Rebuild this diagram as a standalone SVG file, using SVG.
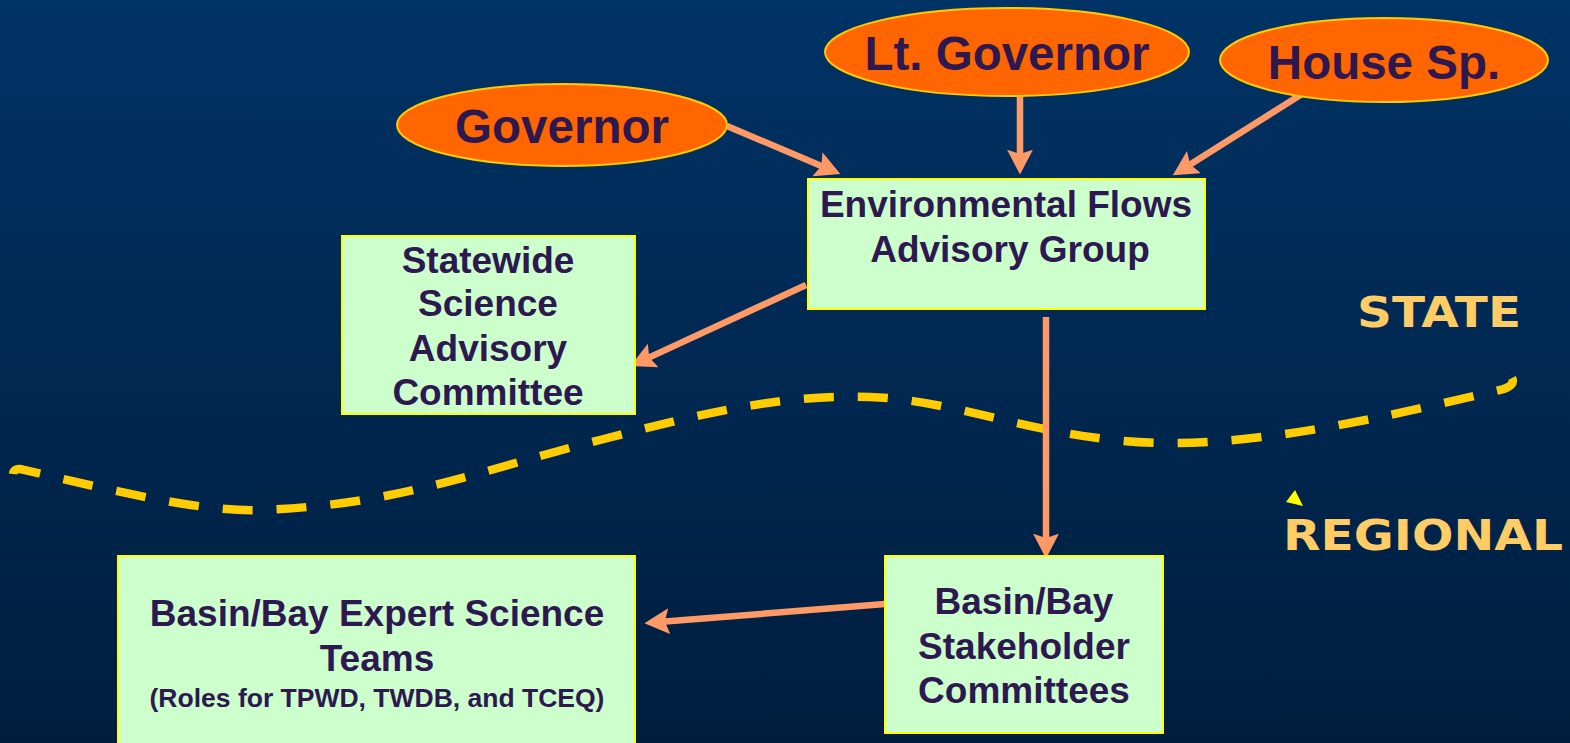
<svg xmlns="http://www.w3.org/2000/svg" width="1570" height="743" viewBox="0 0 1570 743">
<defs>
<linearGradient id="bg" x1="0" y1="0" x2="0" y2="1">
<stop offset="0" stop-color="#003366"/>
<stop offset="1" stop-color="#001d3d"/>
</linearGradient>
<marker id="ah" markerUnits="userSpaceOnUse" markerWidth="26" markerHeight="26" refX="4" refY="12" orient="auto" viewBox="0 0 24 24">
<path d="M0,0 L23,12 L0,24 L4,12 z" fill="#ff9966"/>
</marker>
<style>
.oval{fill:#ff6600;stroke:#ffcc00;stroke-width:2}
.box{fill:#ccffcc;stroke:#ffff00;stroke-width:2}
.t{font-family:"Liberation Sans",Arial,sans-serif;font-weight:bold;fill:#2e1850;text-anchor:middle}
.big{font-size:47.5px}
.mid{font-size:37px}
.sm{font-size:26.5px}
.lbl{font-family:"DejaVu Sans","Liberation Sans",sans-serif;font-weight:bold;fill:#ffcc66;font-size:42px}
.con{stroke:#ff9966;stroke-width:6.5;fill:none;marker-end:url(#ah)}
</style>
</defs>
<rect width="1570" height="743" fill="url(#bg)"/>
<path d="M13,474 Q14,467 24,470 C120,492 200,512 260,510 C400,505 480,470 600,440 C700,414 780,394 870,397 C960,400 1040,440 1160,443 C1280,445 1420,408 1500,390 Q1516,386 1512,378" fill="none" stroke="#ffcc00" stroke-width="8.5" stroke-dasharray="30 24"/>
<polygon points="1295,490 1286,502 1303,506" fill="#ffff00"/>
<text class="lbl" x="1357" y="327" textLength="164" lengthAdjust="spacingAndGlyphs">STATE</text>
<text class="lbl" x="1283" y="550" textLength="280" lengthAdjust="spacingAndGlyphs">REGIONAL</text>
<g id="connectors">
<line class="con" x1="727" y1="126" x2="821.4" y2="166"/>
<line class="con" x1="1020" y1="96" x2="1020" y2="154"/>
<line class="con" x1="1302" y1="94" x2="1190.2" y2="164.4"/>
<line class="con" x1="806" y1="285" x2="649.3" y2="357.4"/>
<line class="con" x1="1046" y1="317" x2="1046" y2="538"/>
<line class="con" x1="885" y1="604" x2="664.9" y2="621.6"/>
</g>
<g id="governor">
<ellipse class="oval" cx="562" cy="125" rx="165" ry="41"/>
<text class="t big" x="562" y="143">Governor</text>
</g>
<g id="lt-governor">
<ellipse class="oval" cx="1007" cy="52" rx="182" ry="44"/>
<text class="t big" x="1007" y="70">Lt. Governor</text>
</g>
<g id="house-sp">
<ellipse class="oval" cx="1384" cy="60" rx="164" ry="42"/>
<text class="t big" x="1384" y="79">House Sp.</text>
</g>
<g id="efag">
<rect class="box" x="808" y="179" width="397" height="130"/>
<text class="t mid" x="1006" y="217">Environmental Flows</text>
<text class="t mid" x="1010" y="262">Advisory Group</text>
</g>
<g id="statewide">
<rect class="box" x="342" y="236" width="293" height="178"/>
<text class="t mid" x="488" y="273">Statewide</text>
<text class="t mid" x="488" y="316">Science</text>
<text class="t mid" x="488" y="361">Advisory</text>
<text class="t mid" x="488" y="405">Committee</text>
</g>
<g id="expert">
<rect class="box" x="118" y="556" width="517" height="200"/>
<text class="t mid" x="377" y="626">Basin/Bay Expert Science</text>
<text class="t mid" x="377" y="671">Teams</text>
<text class="t sm" x="377" y="707">(Roles for TPWD, TWDB, and TCEQ)</text>
</g>
<g id="stakeholder">
<rect class="box" x="885" y="556" width="278" height="177"/>
<text class="t mid" x="1024" y="614">Basin/Bay</text>
<text class="t mid" x="1024" y="659">Stakeholder</text>
<text class="t mid" x="1024" y="703">Committees</text>
</g>
</svg>
